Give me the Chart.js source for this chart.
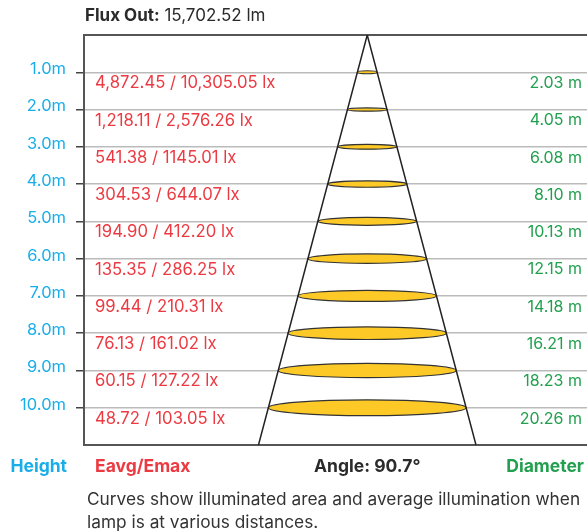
<!DOCTYPE html>
<html>
<head>
<meta charset="utf-8">
<script src="https://cdn.jsdelivr.net/npm/chart.js@4.4.1/dist/chart.umd.min.js"></script>
<style>
  html, body { margin: 0; padding: 0; background: #fff; }
  #wrap { position: relative; width: 587px; height: 531px; font-family: Inter, sans-serif; }
  #coneChart { position: absolute; left: 0; top: 0; }
  .flux { position: absolute; left: 85px; top: 5px; font-size: 17px; line-height: 20px; color: #2b2b2b; white-space: nowrap; }
  .note { position: absolute; left: 87px; top: 487px; margin: 0; font-size: 17.3px; line-height: 23px; color: #333; white-space: nowrap; }
</style>
</head>
<body>
<div id="wrap">
  <canvas id="coneChart" width="587" height="531"></canvas>
  <div class="flux"><b>Flux Out:</b> <span id="fluxValue"></span> lm</div>
  <p class="note">Curves show illuminated area and average illumination when<br>lamp is at various distances.</p>
</div>
<script>
// Beam data
const fluxOut = '15,702.52';
const beamAngle = 90.7;
const maxHeight = 11;
const heights = [1, 2, 3, 4, 5, 6, 7, 8, 9, 10];
const heightLabels = ['1.0m', '2.0m', '3.0m', '4.0m', '5.0m', '6.0m', '7.0m', '8.0m', '9.0m', '10.0m'];
const illuminance = [
    '4,872.45 / 10,305.05 lx', '1,218.11 / 2,576.26 lx', '541.38 / 1145.01 lx', '304.53 / 644.07 lx',
    '194.90 / 412.20 lx', '135.35 / 286.25 lx', '99.44 / 210.31 lx', '76.13 / 161.02 lx',
    '60.15 / 127.22 lx', '48.72 / 103.05 lx'
];
const diameters = [2.03, 4.05, 6.08, 8.10, 10.13, 12.15, 14.18, 16.21, 18.23, 20.26];

const BLUE = '#1aaee8';
const RED = '#ec3a42';
const GREEN = '#22a04f';
const DARK = '#2b2b2b';

document.getElementById('fluxValue').textContent = fluxOut;

// half width of the cone at the bottom of the plot, from the beam angle
const coneEdge = maxHeight * Math.tan(beamAngle / 2 * Math.PI / 180);

// draws the light pools under the cone lines
const lightPools = {
    id: 'lightPools',
    beforeDatasetsDraw(chart) {
        const { ctx, scales: { x, y } } = chart;
        const cx = x.getPixelForValue(0);
        ctx.save();
        diameters.forEach((d, i) => {
            const cy = y.getPixelForValue(heights[i]);
            const rx = x.getPixelForValue(d / 2) - cx;
            const ry = Math.max(rx * 0.08, 1.5);
            ctx.beginPath();
            ctx.ellipse(cx, cy, rx, ry, 0, 0, Math.PI * 2);
            ctx.fillStyle = '#fcc927';
            ctx.fill();
            ctx.lineWidth = 1.2;
            ctx.strokeStyle = '#333';
            ctx.stroke();
        });
        ctx.restore();
    }
};

// red / green values under each line, plus the column headings
const beamLabels = {
    id: 'beamLabels',
    afterDatasetsDraw(chart) {
        const { ctx, chartArea, scales: { x, y } } = chart;
        ctx.save();
        ctx.textBaseline = 'middle';
        heights.forEach((h, i) => {
            const py = y.getPixelForValue(h) + 11;
            ctx.font = '16.7px Inter';
            ctx.fillStyle = RED;
            ctx.textAlign = 'left';
            ctx.fillText(illuminance[i], chartArea.left + 11, py);
            ctx.font = '16px Inter';
            ctx.fillStyle = GREEN;
            ctx.textAlign = 'right';
            ctx.fillText(diameters[i].toFixed(2) + ' m', chartArea.right - 5, py);
        });

        const hy = chartArea.bottom + 22;
        ctx.font = 'bold 17.5px Inter';
        ctx.textAlign = 'right';
        ctx.fillStyle = BLUE;
        ctx.fillText('Height', chartArea.left - 17, hy);
        ctx.textAlign = 'left';
        ctx.fillStyle = RED;
        ctx.fillText('Eavg/Emax', chartArea.left + 11, hy);
        ctx.textAlign = 'center';
        ctx.fillStyle = DARK;
        ctx.fillText('Angle: ' + beamAngle + '°', x.getPixelForValue(0), hy);
        ctx.textAlign = 'right';
        ctx.fillStyle = GREEN;
        ctx.fillText('Diameter', chartArea.right - 3, hy);
        ctx.restore();
    }
};

new Chart(document.getElementById('coneChart'), {
    type: 'scatter',
    data: {
        datasets: [{
            data: [{ x: -coneEdge, y: maxHeight }, { x: 0, y: 0 }, { x: coneEdge, y: maxHeight }],
            showLine: true,
            borderColor: '#222',
            borderWidth: 1.5,
            pointRadius: 0,
            fill: false
        }]
    },
    options: {
        responsive: false,
        animation: false,
        layout: { padding: { top: 35, right: 0, bottom: 86, left: 0 } },
        plugins: {
            legend: { display: false },
            tooltip: { enabled: false }
        },
        scales: {
            x: {
                type: 'linear',
                min: -29,
                max: 22.5,
                ticks: { display: false },
                grid: { display: false },
                border: { color: '#555', width: 2 },
                afterFit: (scale) => { scale.height = 0; }
            },
            xTop: {
                type: 'linear',
                position: 'top',
                min: -29,
                max: 22.5,
                ticks: { display: false },
                grid: { display: false },
                border: { color: '#555', width: 2 },
                afterFit: (scale) => { scale.height = 0; }
            },
            y: {
                reverse: true,
                min: 0,
                max: maxHeight,
                afterBuildTicks: (scale) => { scale.ticks = heights.map(v => ({ value: v })); },
                ticks: {
                    color: BLUE,
                    font: { family: 'Inter', size: 16.5 },
                    padding: 10,
                    labelOffset: -3,
                    callback: (value) => heightLabels[heights.indexOf(value)]
                },
                grid: { color: '#bbb', lineWidth: 1.5, tickColor: '#444', tickLength: 8 },
                border: { color: '#555', width: 2 },
                afterFit: (scale) => { scale.width = 84; }
            }
        }
    },
    plugins: [lightPools, beamLabels]
});
</script>
</body>
</html>
